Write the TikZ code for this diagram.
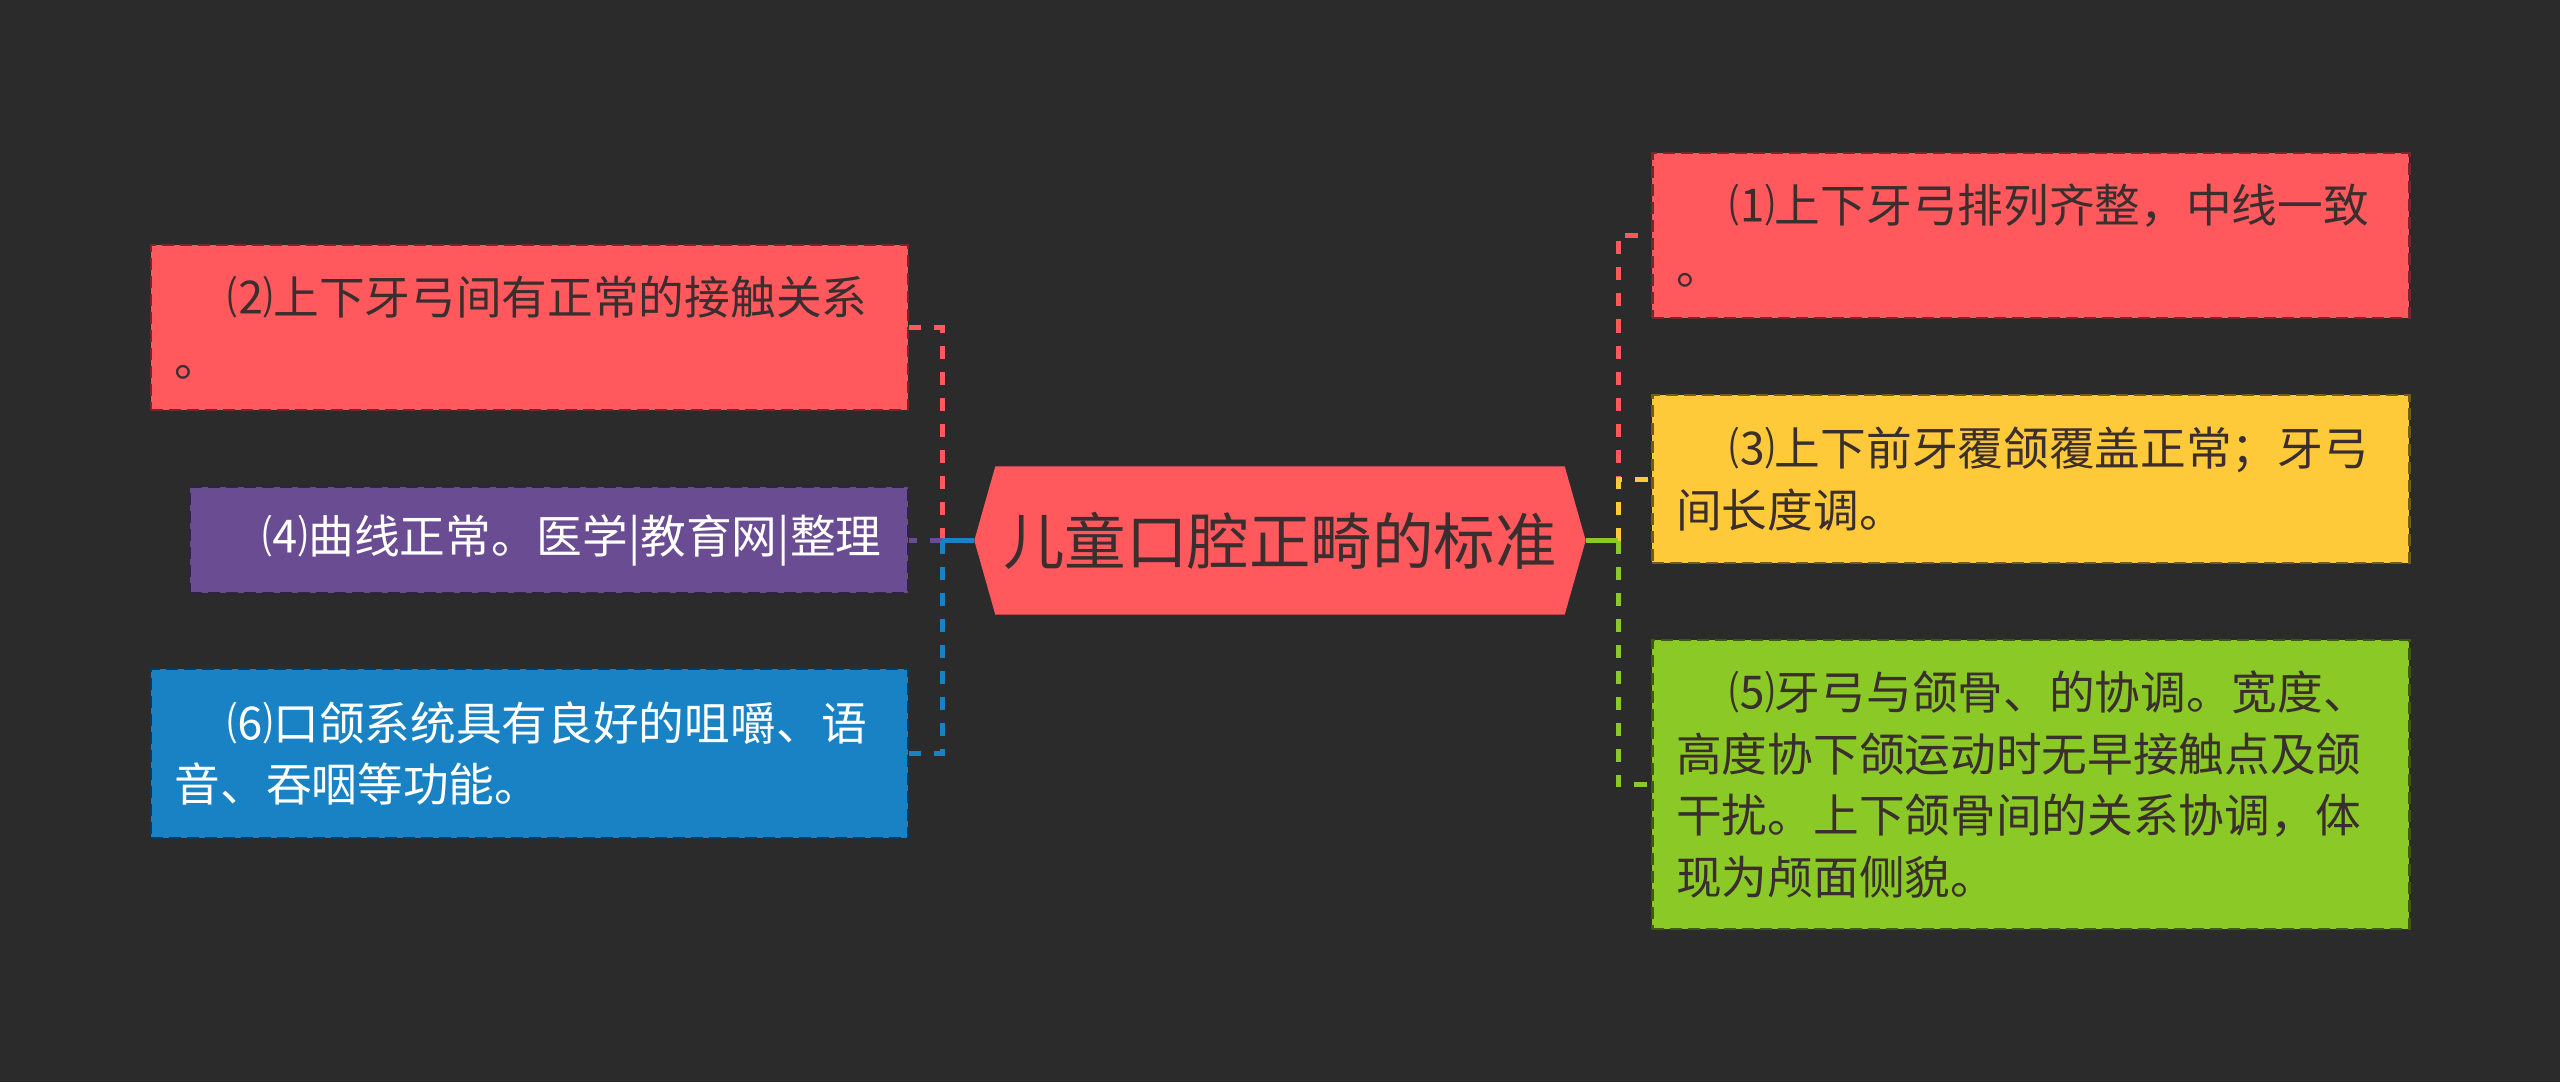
\documentclass[tikz,border=0pt]{standalone}
\usepackage{fontspec}
\newfontfamily\cjk{Noto Sans CJK SC}
\usepackage{tikz}
\usetikzlibrary{calc,backgrounds}
\definecolor{bgdark}{HTML}{2B2B2B}
\definecolor{cred}{HTML}{FF595E}
\definecolor{cyellow}{HTML}{FFCA3A}
\definecolor{cgreen}{HTML}{8AC926}
\definecolor{cblue}{HTML}{1982C4}
\definecolor{cpurple}{HTML}{6A4C93}
\definecolor{inkdark}{HTML}{3A2E2E}

\begin{document}
\begin{tikzpicture}[font=\cjk\fontsize{13pt}{17.6pt}\selectfont,
  leaf/.style={rectangle, fill=#1, draw=#1!45!black, line width=0.025cm,
    dash pattern=on 0.12cm off 0.06cm, inner xsep=0.24cm, inner ysep=0pt,
    text width=7.09cm, align=left, minimum height=1.65cm},
  link/.style={draw=#1, line width=0.05cm, dash pattern=on 0.13cm off 0.13cm}]
  \useasboundingbox (0,0) rectangle (25.6,-10.82);
  \node[text=inkdark, font=\cjk\fontsize{17.5pt}{20pt}\selectfont,
    minimum width=5.68cm, minimum height=1.47cm, inner sep=0pt] (root) at (12.80,-5.405) {儿童口腔正畸的标准};
  \coordinate (rootL) at ($(root.west)+(-0.21,0)$);
  \coordinate (rootR) at ($(root.east)+(0.21,0)$);
  \begin{scope}[on background layer]
    \fill[bgdark] (0,0) rectangle (25.6,-10.82);
    \fill[cred] (root.north west) -- (root.north east) -- (rootR) -- (root.south east)
      -- (root.south west) -- (rootL) -- cycle;
  \end{scope}
  \coordinate (spL) at (9.42,-5.405);
  \coordinate (spR) at (16.18,-5.405);
  % left branch
  \node[leaf=cred, text=inkdark, anchor=east] (n2) at (9.09,-3.275)
    {\hspace*{0.53cm}⑵上下牙弓间有正常的接触关系\\。};
  \node[leaf=cpurple, text=white, anchor=east, text width=6.78cm, inner xsep=0.2cm,
    minimum height=1.06cm] (n4) at (9.09,-5.40)
    {\hspace*{0.53cm}⑷曲线正常。医学|教育网|整理};
  \node[leaf=cblue, text=white, anchor=east, minimum height=1.69cm] (n6) at (9.09,-7.535)
    {\hspace*{0.53cm}⑹口颌系统具有良好的咀嚼、语\\音、吞咽等功能。};
  % right branch
  \node[leaf=cred, text=inkdark, anchor=west] (n1) at (16.51,-2.355)
    {\hspace*{0.53cm}⑴上下牙弓排列齐整，中线一致\\。};
  \node[leaf=cyellow, text=inkdark, anchor=west, minimum height=1.68cm] (n3) at (16.51,-4.79)
    {\hspace*{0.53cm}⑶上下前牙覆颌覆盖正常；牙弓\\间长度调。};
  \node[leaf=cgreen, text=inkdark, anchor=west, minimum height=2.89cm] (n5) at (16.51,-7.845)
    {\hspace*{0.53cm}⑸牙弓与颌骨、的协调。宽度、\\高度协下颌运动时无早接触点及颌\\干扰。上下颌骨间的关系协调，体\\现为颅面侧貌。};
  \foreach \n/\c in {n2/cred, n4/cpurple, n6/cblue}
    \draw[link=\c] (spL) |- (\n.east);
  \foreach \n/\c in {n1/cred, n3/cyellow, n5/cgreen}
    \draw[link=\c] (spR) |- (\n.west);
  \draw[cblue, line width=0.05cm] (rootL) -- (spL);
  \draw[cgreen, line width=0.05cm] (rootR) -- (spR);
\end{tikzpicture}
\end{document}
